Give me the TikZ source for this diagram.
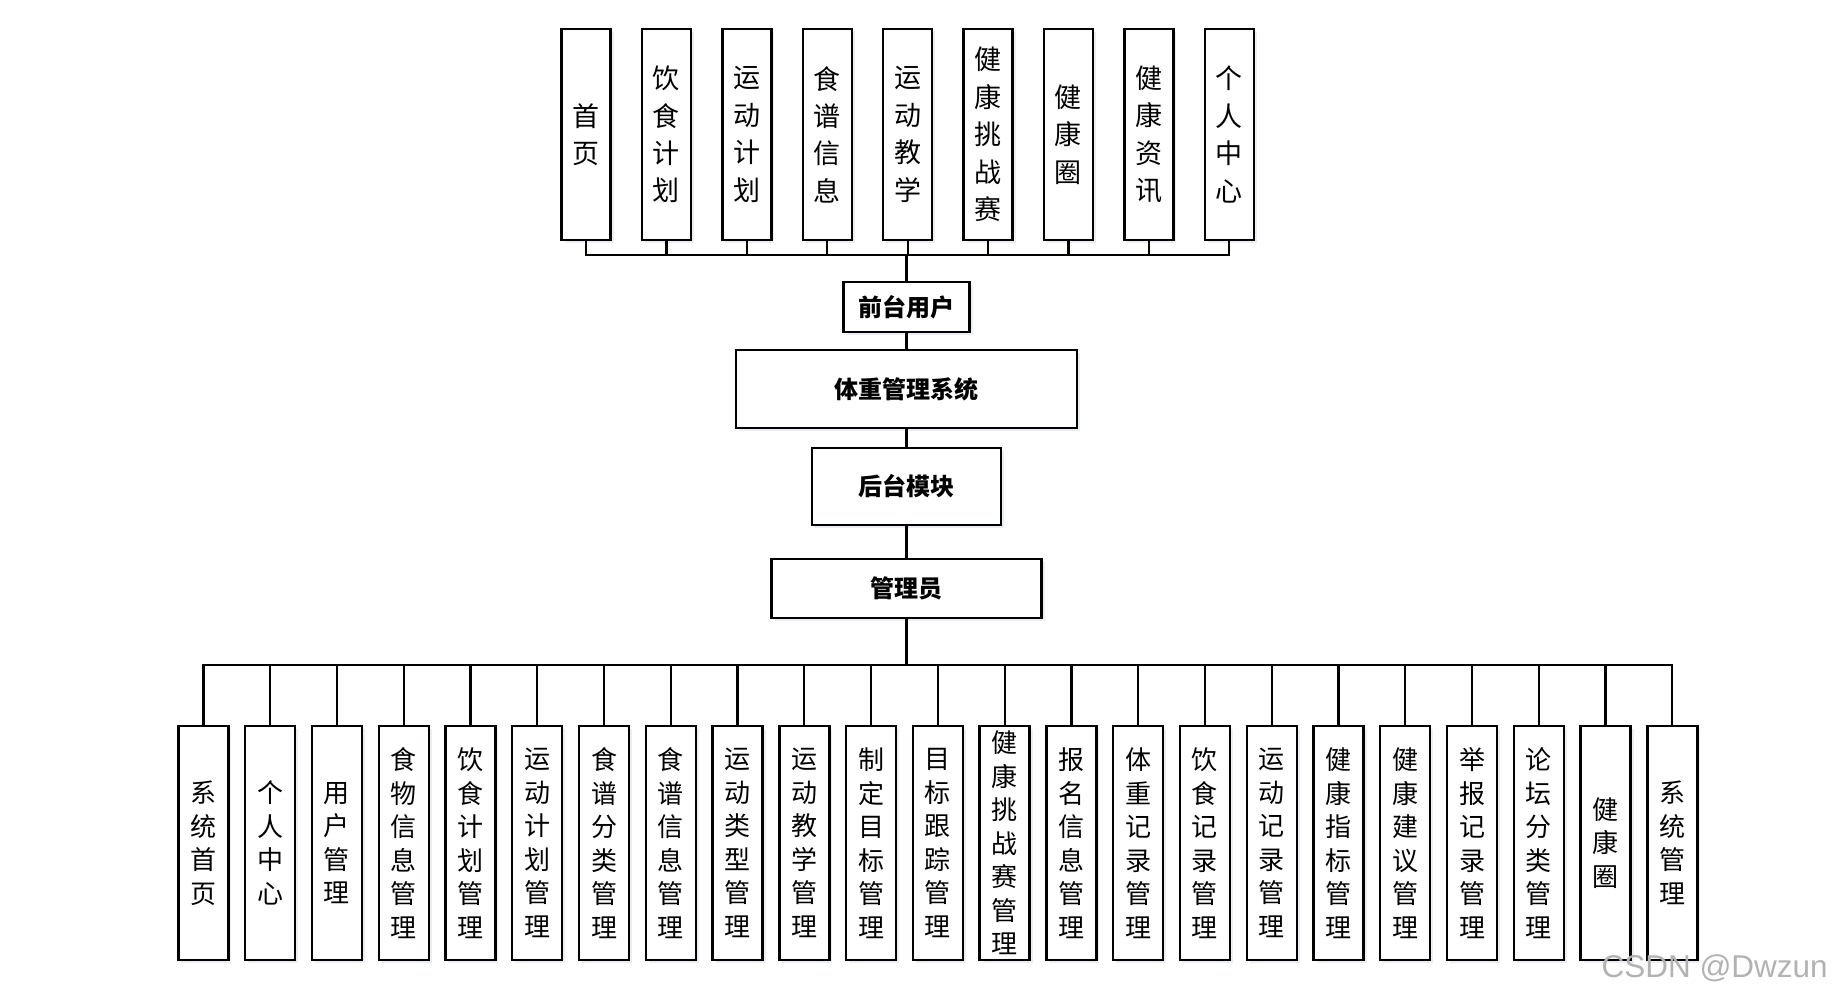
\documentclass[tikz,border=0pt]{standalone}
\usepackage{fontspec}
\newfontfamily\cjk{Noto Sans CJK SC}
\setsansfont{Liberation Sans}
\usetikzlibrary{shadows}

\begin{document}
% units are pixels of the 1833x999 layout, y grows downwards
\begin{tikzpicture}[x=1pt, y=-1pt,
  shade/.style={drop shadow={shadow xshift=3pt, shadow yshift=-3pt, fill={rgb,255:red,214;green,222;blue,236}}},
  vbox/.style={draw, line width=2.4pt, fill=white, align=center, inner sep=0pt, shade},
  topbox/.style={vbox, minimum width=49pt, minimum height=211pt, font=\cjk\fontsize{27}{37.4}\selectfont},
  botbox/.style={vbox, minimum width=50pt, minimum height=234pt, font=\cjk\fontsize{26}{33.5}\selectfont},
  midbox/.style={draw, line width=2.4pt, fill=white, inner sep=0pt, shade, font=\cjk\bfseries\fontsize{24}{28}\selectfont},
  conn/.style={line width=2.2pt}]
\useasboundingbox (0,0) rectangle (1833,999);

% front-end modules
\foreach \txt [count=\i] in {{首\\页}, {饮\\食\\计\\划}, {运\\动\\计\\划}, {食\\谱\\信\\息},
    {运\\动\\教\\学}, {健\\康\\挑\\战\\赛}, {健\\康\\圈}, {健\\康\\资\\讯}, {个\\人\\中\\心}}
  \node[topbox] (t\i) at ({586+(\i-1)*80.4},134.5) {\txt};

% middle chain
\node[midbox, minimum width=126pt, minimum height=50pt] (front) at (906.5,307) {前台用户};
\node[midbox, minimum width=341pt, minimum height=78pt] (sys) at (906.5,389) {体重管理系统};
\node[midbox, minimum width=189pt, minimum height=77pt] (back) at (906.5,486.5) {后台模块};
\node[midbox, minimum width=270pt, minimum height=59pt] (admin) at (906.5,588.5) {管理员};

% back-end modules
\foreach \txt [count=\i] in {{系\\统\\首\\页}, {个\\人\\中\\心}, {用\\户\\管\\理},
    {食\\物\\信\\息\\管\\理}, {饮\\食\\计\\划\\管\\理}, {运\\动\\计\\划\\管\\理},
    {食\\谱\\分\\类\\管\\理}, {食\\谱\\信\\息\\管\\理}, {运\\动\\类\\型\\管\\理},
    {运\\动\\教\\学\\管\\理}, {制\\定\\目\\标\\管\\理}, {目\\标\\跟\\踪\\管\\理},
    {健\\康\\挑\\战\\赛\\管\\理}, {报\\名\\信\\息\\管\\理}, {体\\重\\记\\录\\管\\理},
    {饮\\食\\记\\录\\管\\理}, {运\\动\\记\\录\\管\\理}, {健\\康\\指\\标\\管\\理},
    {健\\康\\建\\议\\管\\理}, {举\\报\\记\\录\\管\\理}, {论\\坛\\分\\类\\管\\理},
    {健\\康\\圈}, {系\\统\\管\\理}}
  \node[botbox] (b\i) at ({203.4+(\i-1)*66.77},843) {\txt};

% connectors
\coordinate (tbus) at (906.5,255);
\coordinate (bbus) at (906.5,665);
\foreach \i in {1,...,9} \draw[conn] (t\i.south) |- (tbus);
\draw[conn] (tbus) -- (front.north);
\draw[conn] (front.south) -- (sys.north);
\draw[conn] (sys.south) -- (back.north);
\draw[conn] (back.south) -- (admin.north);
\draw[conn] (admin.south) -- (bbus);
\foreach \i in {1,...,23} \draw[conn] (bbus) -| (b\i.north);

\node[font=\sffamily\fontsize{31.5}{32}\selectfont, text=black!30, anchor=east, inner sep=0pt] (mark) at (1828,968) {CSDN @Dwzun};
\end{tikzpicture}
\end{document}
